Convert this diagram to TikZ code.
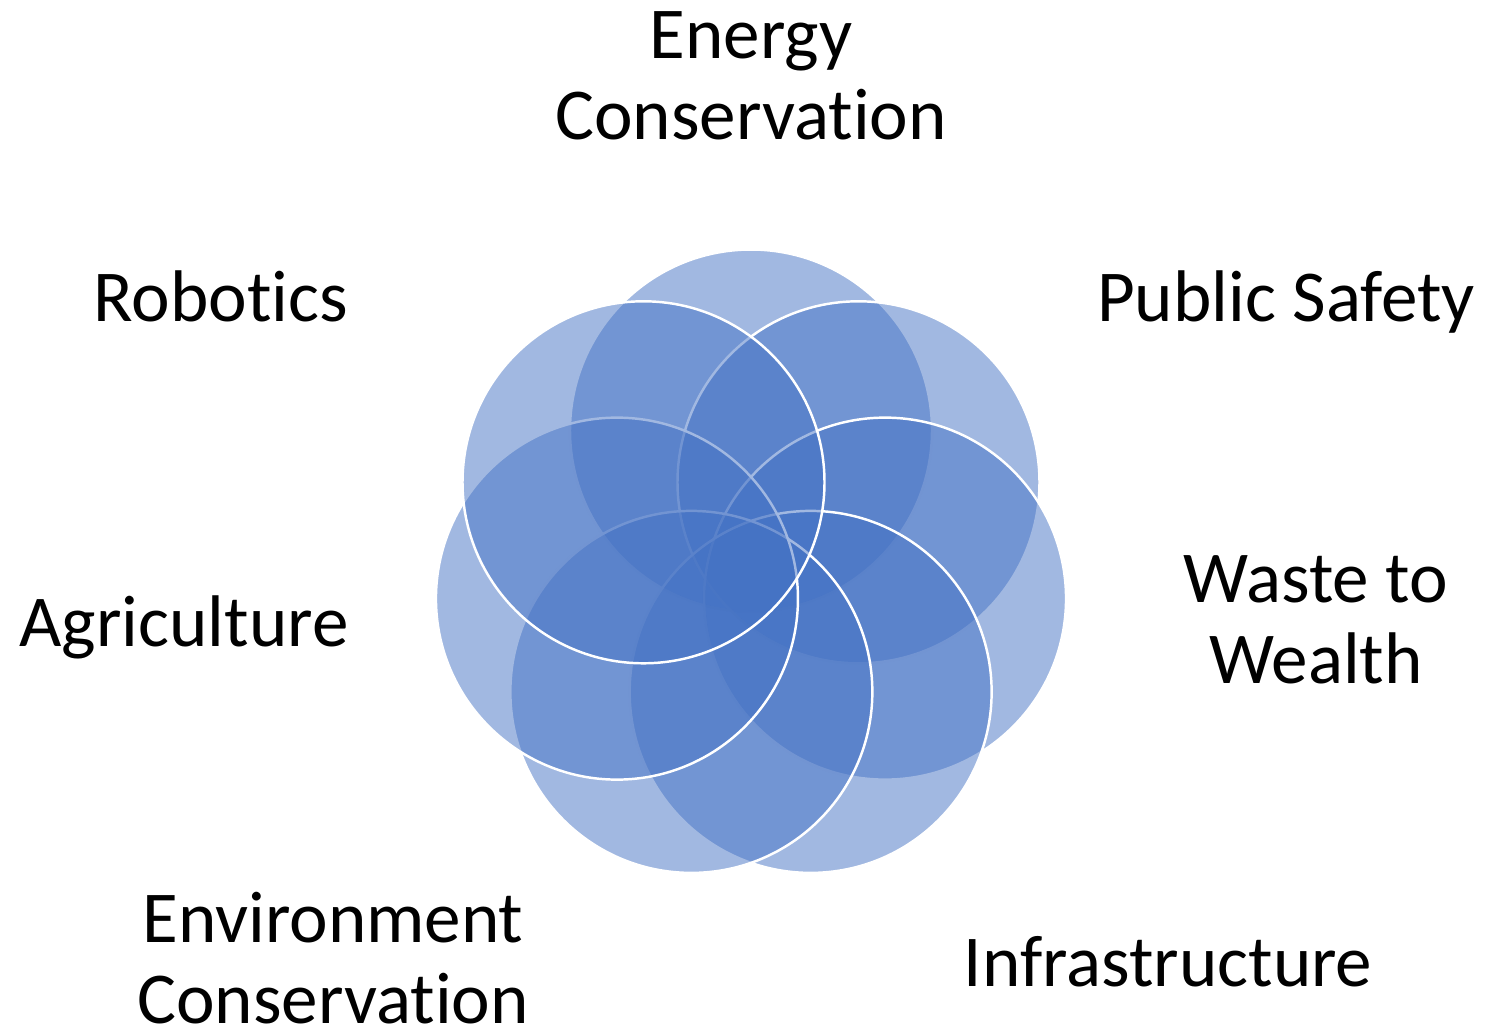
\documentclass[tikz,border=0pt]{standalone}
\usepackage{fontspec}
\setmainfont{Carlito}[Ligatures=NoCommon]
\usepackage{tikz}
\usepackage{xcolor}
\definecolor{petalblue}{HTML}{4472C4}

\begin{document}
\begin{tikzpicture}[
    petal/.style={circle, draw=white, fill=petalblue, fill opacity=0.5, line width=0.7pt, minimum size=3.62cm, inner sep=0pt},
    topic/.style={font=\fontsize{20.8}{23}\selectfont, align=center, inner sep=0pt},
]
    \useasboundingbox (0,0) rectangle (14.86,-10.32);

    % Hub of the seven circles
    \coordinate (hub) at (7.51,-5.68);

    % Circles, drawn in order
    \node[petal] (energy) at ([shift={(90:1.375)}]hub) {};
    \node[petal] (safety) at ([shift={(38.57:1.375)}]hub) {};
    \node[petal] (waste) at ([shift={(-12.86:1.375)}]hub) {};
    \node[petal] (infra) at ([shift={(-64.29:1.375)}]hub) {};
    \node[petal] (environ) at ([shift={(-115.71:1.375)}]hub) {};
    \node[petal] (agri) at ([shift={(-167.14:1.375)}]hub) {};
    \node[petal] (robotics) at ([shift={(141.43:1.375)}]hub) {};

    % Labels
    \node[topic] (energytxt) at (7.51,-0.755) {Energy\\Conservation};
    \node[topic, anchor=base] (safetytxt) at (12.86,-3.21) {Public Safety};
    \node[topic] (wastetxt) at (13.16,-6.20) {Waste to\\Wealth};
    \node[topic, anchor=base] (infratxt) at (11.68,-9.86) {Infrastructure};
    \node[topic] (environtxt) at (3.33,-9.58) {Environment\\Conservation};
    \node[topic, anchor=base] (agritxt) at (1.84,-6.46) {Agriculture};
    \node[topic, anchor=base] (robotxt) at (2.21,-3.21) {Robotics};

\end{tikzpicture}
\end{document}
